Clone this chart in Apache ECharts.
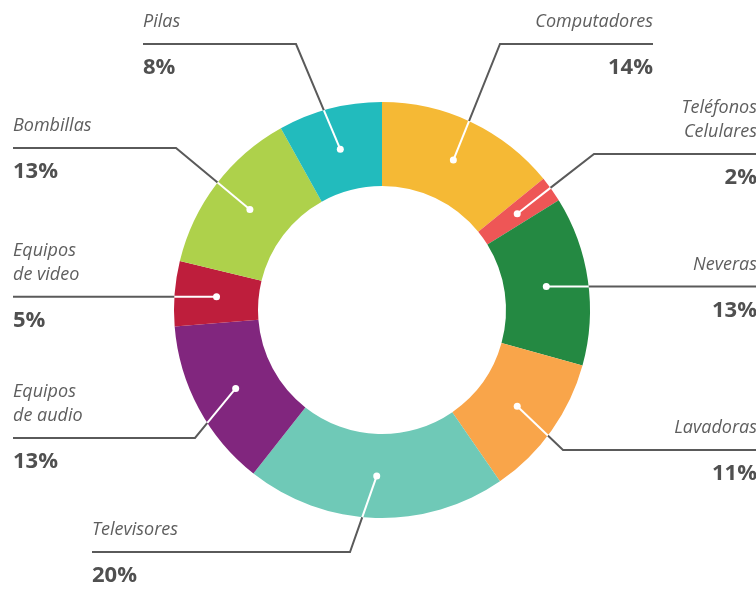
<!DOCTYPE html>
<html>
<head>
<meta charset="utf-8">
<script src="https://cdn.jsdelivr.net/npm/echarts@6/dist/echarts.min.js"></script>
<style>
html,body{margin:0;padding:0;background:#fff;}
#chart{width:756px;height:590px;}
</style>
</head>
<body>
<div id="chart"></div>
<script>
// ---- data ----
var categories = ['Computadores', 'Teléfonos\nCelulares', 'Neveras', 'Lavadoras', 'Televisores',
  'Equipos de audio', 'Equipos de video', 'Bombillas', 'Pilas'];
var labelNames = ['Computadores', 'Teléfonos\nCelulares', 'Neveras', 'Lavadoras', 'Televisores',
  'Equipos\nde audio', 'Equipos\nde video', 'Bombillas', 'Pilas'];
var values = [14, 2, 13, 11, 20, 13, 5, 13, 8];
var colors = ['#F5B935', '#EE5656', '#248942', '#F9A54A', '#6FC9B7', '#81267E', '#BE1E3C', '#AED14B', '#22BBBD'];

// ---- label layout (annotation placement, not data) ----
// [text x, line y (null = same as dot), align, elbow x (null = straight)]
var labelPlace = [
  [653, 44, 'right', 500],
  [757, 154, 'right', 594],
  [757, null, 'right', null],
  [757, 450, 'right', 563],
  [92, 552, 'left', 350],
  [13, 438, 'left', 195],
  [13, null, 'left', null],
  [13, 148, 'left', 176],
  [143, 44, 'left', 296]
];

var CX = 382, CY = 310, R_IN = 124, R_OUT = 208, R_DOT = 166;

function dotPoint(params) {
  var p = params.labelLinePoints;
  var dx, dy;
  if (p && p.length) {
    dx = p[0][0] - CX; dy = p[0][1] - CY;
  } else {
    var total = values.reduce(function (a, b) { return a + b; }, 0);
    var before = 0;
    for (var i = 0; i < params.dataIndex; i++) before += values[i];
    var ang = (before + values[params.dataIndex] / 2) / total * Math.PI * 2;
    dx = Math.sin(ang); dy = -Math.cos(ang);
  }
  var len = Math.sqrt(dx * dx + dy * dy);
  return [CX + dx / len * R_DOT, CY + dy / len * R_DOT];
}
function geom(params) {
  var i = params.dataIndex;
  var pl = labelPlace[i];
  var d = dotPoint(params);
  var ly = pl[1] == null ? d[1] : pl[1];
  var ux, uy, straight = pl[3] == null;
  if (straight) {
    ux = pl[0] > d[0] ? 1 : -1; uy = 0;
  } else {
    ux = pl[3] - d[0]; uy = ly - d[1];
    var L = Math.sqrt(ux * ux + uy * uy); ux /= L; uy /= L;
  }
  var fx = d[0] - CX, fy = d[1] - CY;
  var b = fx * ux + fy * uy, c = fx * fx + fy * fy - R_OUT * R_OUT;
  var t = -b + Math.sqrt(b * b - c);
  var cross = [d[0] + ux * t, d[1] + uy * t];
  var elbow = straight ? cross : [pl[3], ly];
  return { dot: d, ly: ly, elbow: elbow, cross: cross, pl: pl };
}

var data = categories.map(function (c, i) {
  return { name: c, value: values[i], itemStyle: { color: colors[i] } };
});

var chart = echarts.init(document.getElementById('chart'), null, { renderer: 'canvas' });
chart.setOption({
  backgroundColor: '#fff',
  animation: false,
  series: [
    {
      type: 'pie',
      center: [CX, CY],
      radius: [R_IN, R_OUT],
      startAngle: 90,
      clockwise: true,
      avoidLabelOverlap: false,
      silent: true,
      z: 2,
      data: data,
      label: {
        show: true,
        position: 'outside',
        formatter: function (p) {
          return '{n|' + labelNames[p.dataIndex] + '}\n{s| }\n{p|' + values[p.dataIndex] + '%}';
        },
        rich: {
          n: { fontFamily: 'Open Sans', fontStyle: 'italic', fontSize: 18, color: '#5e5e5e', lineHeight: 24 },
          s: { fontSize: 10, lineHeight: 22 },
          p: { fontFamily: 'Open Sans', fontWeight: 'bold', fontSize: 22, color: '#505050', lineHeight: 24 }
        }
      },
      labelLine: { show: true, length: 10, length2: 10, lineStyle: { color: '#5a5a5a', width: 2 } },
      labelLayout: function (params) {
        var g = geom(params);
        var nLines = labelNames[params.dataIndex].split('\n').length;
        return {
          x: g.pl[0],
          y: g.ly - 10 - 24 * nLines,
          align: g.pl[2],
          verticalAlign: 'top',
          labelLinePoints: [g.cross, g.elbow, [g.pl[0], g.ly]]
        };
      },
      emphasis: { disabled: true }
    },
    {
      type: 'pie',
      center: [CX, CY],
      radius: [R_IN, R_OUT],
      startAngle: 90,
      clockwise: true,
      avoidLabelOverlap: false,
      silent: true,
      z: 5,
      data: categories.map(function (c, i) {
        return { name: c, value: values[i], itemStyle: { color: 'rgba(0,0,0,0)' } };
      }),
      label: {
        show: true,
        position: 'outside',
        formatter: '{d|}',
        rich: { d: { width: 7, height: 7, borderRadius: 3.5, backgroundColor: '#ffffff' } }
      },
      labelLine: { show: true, length: 10, length2: 10, lineStyle: { color: '#ffffff', width: 2 } },
      labelLayout: function (params) {
        var g = geom(params);
        return {
          x: g.dot[0],
          y: g.dot[1],
          align: 'center',
          verticalAlign: 'middle',
          labelLinePoints: [g.dot, g.cross, g.cross]
        };
      },
      emphasis: { disabled: true }
    }
  ]
});
</script>
</body>
</html>
